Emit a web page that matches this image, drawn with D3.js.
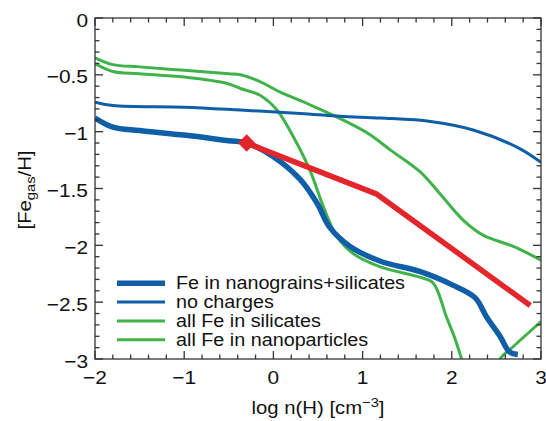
<!DOCTYPE html>
<html>
<head>
<meta charset="utf-8">
<script src="https://cdn.jsdelivr.net/npm/d3@7"></script>
<style>
  body { margin: 0; background: #fff; }
  text { font-family: "Liberation Sans", Arial, sans-serif; fill: #111; }
</style>
</head>
<body>
<svg id="chart" width="546" height="421"></svg>
<script>
// data: log n(H) vs [Fe_gas/H]
var nanoX = [-2, -1.8, -1.5, -1, -0.5, -0.3, 0.0, 0.3, 0.49, 0.63, 0.86, 1.2, 1.64, 2.01, 2.26, 2.39, 2.54, 2.65, 2.74];
var nanoY = [-0.88, -0.96, -0.99, -1.03, -1.08, -1.10, -1.22, -1.42, -1.63, -1.84, -2.01, -2.14, -2.23, -2.35, -2.46, -2.63, -2.8, -2.94, -2.96];

var noChX = [-2, -1.8, -1, -0.37, 0.3, 0.75, 1.2, 1.76, 2.24, 2.74, 3];
var noChY = [-0.74, -0.77, -0.785, -0.81, -0.84, -0.865, -0.88, -0.91, -0.985, -1.14, -1.27];

var silX = [-2, -1.8, -1.5, -1, -0.5, -0.37, -0.15, 0.07, 0.37, 0.71, 1.05, 1.31, 1.64, 1.85, 2.13, 2.35, 2.69, 3];
var silY = [-0.35, -0.41, -0.43, -0.46, -0.49, -0.5, -0.56, -0.65, -0.75, -0.87, -1.01, -1.16, -1.35, -1.53, -1.78, -1.91, -2.01, -2.13];

var npX = [-2, -1.8, -1.5, -1, -0.5, -0.37, -0.15, 0.04, 0.22, 0.41, 0.56, 0.71, 0.89, 1.2, 1.64, 1.79, 1.94, 2.04, 2.11, 2.25, 2.4, 2.54, 2.69, 3];
var npY = [-0.4, -0.47, -0.49, -0.52, -0.58, -0.62, -0.68, -0.81, -1.04, -1.34, -1.66, -1.92, -2.07, -2.19, -2.28, -2.33, -2.63, -2.83, -3.0, -3.3, -3.3, -3.0, -2.89, -2.67];

var redX = [-0.3, 1.16, 2.88];
var redY = [-1.1, -1.55, -2.53];
var markX = -0.3, markY = -1.1;

var legendLabels = ["Fe in nanograins+silicates", "no charges", "all Fe in silicates", "all Fe in nanoparticles"];
var xTicks = [-2, -1, 0, 1, 2, 3];
var yTicks = [0, -0.5, -1, -1.5, -2, -2.5, -3];

var blue = "#0f5ea8", green = "#3fb34a", red = "#e3262b";
var sx = 1.13; // glyphs in the picture are a little wide

var svg = d3.select("#chart");
var L = 95, R = 541, T = 18, B = 359;

var x = d3.scaleLinear().domain([-2, 3]).range([L, R]);
var y = d3.scaleLinear().domain([0, -3]).range([T, B]);

function fmt(v) { return (v < 0 ? "\u2212" : "") + d3.format("")(Math.abs(v)); }

svg.append("clipPath").attr("id", "clip")
  .append("rect").attr("x", L).attr("y", T).attr("width", R - L).attr("height", B - T);

var plot = svg.append("g").attr("clip-path", "url(#clip)");

function zip(xs, ys) { return xs.map(function(v, i) { return [v, ys[i]]; }); }

var smooth = d3.line().x(function(d) { return x(d[0]); }).y(function(d) { return y(d[1]); })
  .curve(d3.curveCatmullRom.alpha(0.5));
var straight = d3.line().x(function(d) { return x(d[0]); }).y(function(d) { return y(d[1]); });

var series = [
  {pts: zip(npX, npY), color: green, w: 3, line: smooth},
  {pts: zip(silX, silY), color: green, w: 3, line: smooth},
  {pts: zip(noChX, noChY), color: blue, w: 3, line: smooth},
  {pts: zip(nanoX, nanoY), color: blue, w: 5.5, line: smooth},
  {pts: zip(redX, redY), color: red, w: 5.5, line: straight}
];

plot.selectAll("path.s")
  .data(series).enter()
  .append("path")
  .attr("class", "s")
  .attr("d", function(d) { return d.line(d.pts); })
  .attr("fill", "none")
  .attr("stroke", function(d) { return d.color; })
  .attr("stroke-width", function(d) { return d.w; })
  .attr("stroke-linejoin", "round");

// diamond marker
plot.append("path")
  .attr("d", d3.symbol().type(d3.symbolSquare).size(150)())
  .attr("transform", "translate(" + x(markX) + "," + y(markY) + ") rotate(45)")
  .attr("fill", red);

// frame and inward ticks on all four sides
var frame = svg.append("g").attr("stroke", "#333").attr("stroke-width", 1.3);
frame.append("rect").attr("x", L).attr("y", T).attr("width", R - L).attr("height", B - T).attr("fill", "none");

var xMinor = d3.range(-2, 3.001, 0.2);
var yMinor = d3.range(0, -3.001, -0.1);
xMinor.forEach(function(v) {
  var len = Math.abs(v - Math.round(v)) < 1e-6 ? 8 : 4.5;
  frame.append("line").attr("x1", x(v)).attr("x2", x(v)).attr("y1", B).attr("y2", B - len);
  frame.append("line").attr("x1", x(v)).attr("x2", x(v)).attr("y1", T).attr("y2", T + len);
});
yMinor.forEach(function(v) {
  var len = Math.abs(v * 2 - Math.round(v * 2)) < 1e-6 ? 8 : 4.5;
  frame.append("line").attr("y1", y(v)).attr("y2", y(v)).attr("x1", L).attr("x2", L + len);
  frame.append("line").attr("y1", y(v)).attr("y2", y(v)).attr("x1", R).attr("x2", R - len);
});

// tick labels
svg.selectAll("text.xt")
  .data(xTicks).enter()
  .append("text")
  .attr("class", "xt")
  .attr("text-anchor", "middle")
  .attr("transform", function(d) { return "translate(" + x(d) + ",384) scale(" + sx + ",1)"; })
  .style("font-size", "18.5px")
  .text(fmt);

svg.selectAll("text.yt")
  .data(yTicks).enter()
  .append("text")
  .attr("class", "yt")
  .attr("text-anchor", "end")
  .attr("transform", function(d) { return "translate(88," + (y(d) + 8.5) + ") scale(" + sx + ",1)"; })
  .style("font-size", "18.5px")
  .text(fmt);

// axis titles
var xt = svg.append("text")
  .attr("text-anchor", "middle")
  .attr("transform", "translate(318,414) scale(" + sx + ",1)")
  .style("font-size", "18px");
xt.append("tspan").text("log n(H) [cm");
xt.append("tspan").attr("dy", -7).style("font-size", "13px").text("\u22123");
xt.append("tspan").attr("dy", 7).text("]");

var yt = svg.append("text")
  .attr("text-anchor", "middle")
  .attr("transform", "translate(31,190) rotate(-90) scale(" + sx + ",1)")
  .style("font-size", "18px");
yt.append("tspan").text("[Fe");
yt.append("tspan").attr("dy", 4).style("font-size", "13px").text("gas");
yt.append("tspan").attr("dy", -4).text("/H]");

// legend
var legend = svg.append("g");
var lw = [5.5, 3, 3, 3], lc = [blue, blue, green, green];
legendLabels.forEach(function(t, i) {
  var ly = 283.3 + i * 18.8;
  legend.append("line")
    .attr("x1", 117).attr("x2", 165).attr("y1", ly).attr("y2", ly)
    .attr("stroke", lc[i]).attr("stroke-width", lw[i]);
  legend.append("text")
    .attr("transform", "translate(176," + (ly + 6) + ") scale(" + sx + ",1)")
    .style("font-size", "17.5px")
    .text(t);
});
</script>
</body>
</html>
